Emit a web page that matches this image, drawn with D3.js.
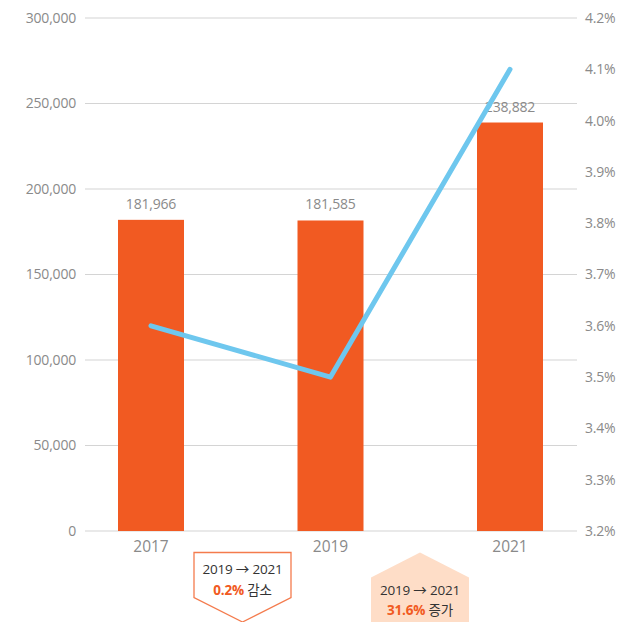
<!DOCTYPE html>
<html><head><meta charset="utf-8">
<script src="https://cdn.jsdelivr.net/npm/d3@7"></script>
<style>
body{margin:0;background:#fff;}
text{font-family:"Open Sans","Noto Sans CJK KR",sans-serif;}
</style></head>
<body><svg id="c" width="623" height="622"></svg>
<script>
const years = ["2017","2019","2021"];
const counts = [181966, 181585, 238882];
const rates = [3.60, 3.50, 4.10];
const leftTicks = [0,50000,100000,150000,200000,250000,300000];
const rightTicks = [3.2,3.3,3.4,3.5,3.6,3.7,3.8,3.9,4.0,4.1,4.2];
const notes = [
  {from:"2019", to:"2021", pct:"0.2%", word:"감소", dir:"down"},
  {from:"2019", to:"2021", pct:"31.6%", word:"증가", dir:"up"}
];

(function(){
const svg = d3.select("#c");
const pTop = 18, pBottom = 531, pLeft = 85, pRight = 577;
const y = d3.scaleLinear().domain([0,300000]).range([pBottom, pTop]);
const y2 = d3.scaleLinear().domain([3.2,4.2]).range([pBottom, pTop]);
const x = d3.scalePoint().domain(years).range([151, 510]);
const bw = 66;
const orange = "#F15A22", blue = "#6EC7EE", grid = "#d4d4d4", tickCol = "#8a8a8a";

svg.append("g").selectAll("line").data(leftTicks).join("line")
  .attr("x1", pLeft).attr("x2", pRight)
  .attr("y1", d=>y(d)).attr("y2", d=>y(d))
  .attr("stroke", grid).attr("stroke-width", 1.2);

const fmt = d3.format(",");
svg.append("g").selectAll("text").data(leftTicks).join("text")
  .attr("x", 76).attr("y", d=>y(d)).attr("dy","0.35em")
  .attr("text-anchor","end").attr("fill", tickCol).attr("font-size", 14)
  .attr("letter-spacing","-0.2")
  .text(d=>fmt(d));

svg.append("g").selectAll("text").data(rightTicks).join("text")
  .attr("x", 585).attr("y", d=>y2(d)).attr("dy","0.35em")
  .attr("text-anchor","start").attr("fill", tickCol).attr("font-size", 14)
  .attr("letter-spacing","-0.2")
  .text(d=>d.toFixed(1)+"%");

svg.append("g").selectAll("rect").data(years).join("rect")
  .attr("x", d=>x(d)-bw/2).attr("width", bw)
  .attr("y", (d,i)=>y(counts[i])).attr("height", (d,i)=>pBottom - y(counts[i]))
  .attr("fill", orange);

svg.append("g").selectAll("text").data(years).join("text")
  .attr("x", d=>x(d)).attr("y", (d,i)=>y(counts[i]) - 11)
  .attr("text-anchor","middle").attr("fill", tickCol).attr("font-size", 14)
  .attr("letter-spacing","-0.2")
  .text((d,i)=>fmt(counts[i]));

svg.append("g").selectAll("text").data(years).join("text")
  .attr("x", d=>x(d)).attr("y", 552)
  .attr("text-anchor","middle").attr("fill", tickCol).attr("font-size", 15.5)
  .text(d=>d);

const line = d3.line().x((d,i)=>x(years[i])).y(d=>y2(d));
svg.append("path").datum(rates).attr("d", line)
  .attr("fill","none").attr("stroke", blue).attr("stroke-width", 5)
  .attr("stroke-linecap","round").attr("stroke-linejoin","round");

const boxes = [
  {cx:242.5, pts:[[194,552.5],[291,552.5],[291,597.5],[242.5,622],[194,597.5]], fill:"#fff", stroke:"#F47B4D", t1:574, t2:595},
  {cx:420, pts:[[420,552.5],[469,577.5],[469,625],[371,625],[371,577.5]], fill:"#FEDDC7", stroke:"none", t1:595, t2:615}
];
boxes.forEach((b,i)=>{
  const n = notes[i];
  svg.append("polygon").attr("points", b.pts.map(p=>p.join(",")).join(" "))
    .attr("fill", b.fill).attr("stroke", b.stroke).attr("stroke-width", 1.3);
  svg.append("text").attr("x", b.cx).attr("y", b.t1).attr("text-anchor","middle")
    .attr("fill","#333").attr("font-size", 13.5).attr("letter-spacing","-0.2")
    .text(n.from + " → " + n.to);
  const t = svg.append("text").attr("x", b.cx).attr("y", b.t2).attr("text-anchor","middle")
    .attr("font-size", 13.5).attr("letter-spacing","-0.2");
  t.append("tspan").attr("fill", orange).attr("font-weight","bold").text(n.pct);
  t.append("tspan").attr("fill","#333").text(" " + n.word);
});
})();
</script></body></html>
